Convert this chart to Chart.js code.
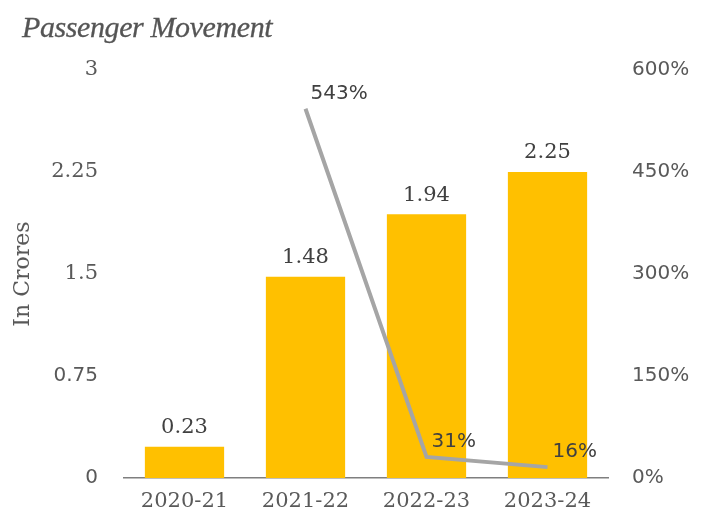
<!DOCTYPE html>
<html>
<head>
<meta charset="utf-8">
<script src="https://cdn.jsdelivr.net/npm/chart.js@4.4.0/dist/chart.umd.min.js"></script>
<style>
  html, body { margin: 0; padding: 0; background: #ffffff; }
  #wrap { position: relative; width: 709px; height: 517px; overflow: hidden; }
  #title { position: absolute; left: 22px; top: 10px; font-family: 'Liberation Serif', serif; font-style: italic; font-size: 30px; color: #555555; letter-spacing: -0.4px; -webkit-text-stroke: 0.3px #555555; }
  canvas { position: absolute; left: 0; top: 0; }
</style>
</head>
<body>
<div id="wrap">
  <canvas id="c" width="709" height="517"></canvas>
  <div id="title">Passenger Movement</div>
</div>
<script>
const categories = ['2020-21', '2021-22', '2022-23', '2023-24'];
const passengers = [0.23, 1.48, 1.94, 2.25];
const growth = [null, 543, 31, 16];
const leftTicks = [0, 0.75, 1.5, 2.25, 3];
const rightTicks = [0, 150, 300, 450, 600];

const TEXT = '#595959';
const SERIF = "'DejaVu Serif', serif";
const SANS = "'DejaVu Sans', sans-serif";

const labelPlugin = {
  id: 'valueLabels',
  afterDatasetsDraw(chart) {
    const ctx = chart.ctx;
    ctx.save();
    const barMeta = chart.getDatasetMeta(0);
    ctx.fillStyle = '#404040';
    ctx.font = '21px ' + SERIF;
    ctx.textAlign = 'center';
    ctx.textBaseline = 'middle';
    barMeta.data.forEach((el, i) => {
      ctx.fillText(passengers[i].toFixed(2), el.x, el.y - 19);
    });
    const lineMeta = chart.getDatasetMeta(1);
    ctx.font = '20px ' + SANS;
    ctx.textAlign = 'left';
    lineMeta.data.forEach((el, i) => {
      if (growth[i] == null) return;
      ctx.fillText(growth[i] + '%', el.x + 5, el.y - 15);
    });
    ctx.restore();
  }
};

new Chart(document.getElementById('c'), {
  data: {
    labels: categories,
    datasets: [
      {
        type: 'bar',
        data: passengers,
        backgroundColor: '#FFC000',
        categoryPercentage: 1,
        barPercentage: 0.655,
        yAxisID: 'y',
        order: 2
      },
      {
        type: 'line',
        data: growth,
        borderColor: '#A5A5A5',
        borderWidth: 4,
        pointRadius: 0,
        tension: 0,
        yAxisID: 'y1',
        order: 1
      }
    ]
  },
  options: {
    responsive: false,
    animation: false,
    devicePixelRatio: 1,
    layout: { padding: { left: 10, right: 0, top: 70, bottom: 0 } },
    plugins: { legend: { display: false }, tooltip: { enabled: false }, title: { display: false } },
    scales: {
      x: {
        grid: { display: false },
        border: { display: true, color: '#7F7F7F', width: 1.5 },
        ticks: { color: TEXT, font: { family: SERIF, size: 21 }, padding: 3 },
        afterFit(s) { s.height = 39; }
      },
      y: {
        position: 'left',
        min: 0, max: 3,
        afterBuildTicks(s) { s.ticks = leftTicks.map(v => ({ value: v })); },
        grid: { display: false },
        border: { display: false },
        ticks: {
          color: TEXT,
          padding: 18,
          font: (c) => ({ family: (c.tick && c.tick.value < 1) ? SANS : SERIF, size: (c.tick && c.tick.value < 1) ? 20 : 21 }),
          callback: (v) => String(v)
        },
        title: { display: true, text: 'In Crores', color: TEXT, font: { family: SERIF, size: 22 }, padding: { top: 0, bottom: 0 } },
        afterFit(s) { s.width = 114; }
      },
      y1: {
        position: 'right',
        min: 0, max: 600,
        afterBuildTicks(s) { s.ticks = rightTicks.map(v => ({ value: v })); },
        grid: { display: false },
        border: { display: false },
        ticks: { color: TEXT, padding: 16, font: { family: SANS, size: 20 }, callback: (v) => v + '%' },
        afterFit(s) { s.width = 101; }
      }
    }
  },
  plugins: [labelPlugin]
});
</script>
</body>
</html>
